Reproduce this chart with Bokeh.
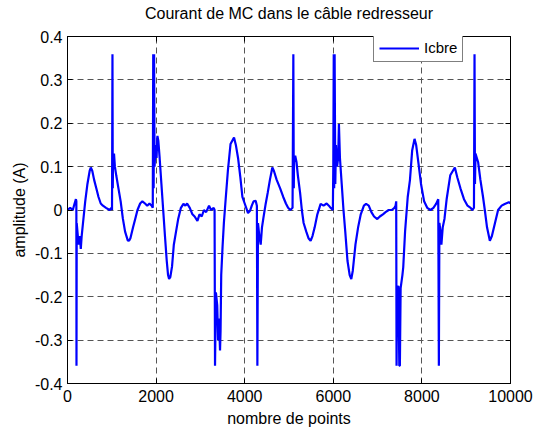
from bokeh.plotting import figure
from bokeh.models import Range1d, FixedTicker, LinearAxis, Legend, LegendItem, ColumnDataSource
from bokeh.embed import file_html
from bokeh.resources import INLINE

# ---------------- data ----------------
sample_index = [
    0, 60, 120, 160, 190, 200, 203, 208, 250, 280, 300, 320, 350, 400, 450, 500, 526, 560, 600, 650,
    700, 750, 800, 870, 950, 990, 1005, 1015, 1022, 1030, 1040, 1050, 1070, 1100, 1150, 1200, 1250,
    1300, 1360, 1390, 1420, 1480, 1530, 1580, 1640, 1690, 1750, 1800, 1850, 1900, 1925, 1935, 1945,
    1955, 1965, 1990, 2010, 2030, 2050, 2080, 2120, 2160, 2200, 2240, 2270, 2293, 2320, 2360, 2400,
    2450, 2500, 2560, 2617, 2660, 2700, 2760, 2820, 2870, 2933, 2980, 3030, 3080, 3130, 3195, 3240,
    3300, 3320, 3330, 3350, 3380, 3400, 3420, 3443, 3455, 3470, 3500, 3530, 3571, 3620, 3680, 3759,
    3800, 3850, 3900, 3948, 4000, 4075, 4120, 4160, 4200, 4248, 4275, 4286, 4300, 4330, 4361, 4390,
    4420, 4473, 4520, 4570, 4624, 4660, 4720, 4800, 4870, 4930, 4980, 5030, 5080, 5098, 5108, 5115,
    5140, 5170, 5200, 5250, 5290, 5330, 5390, 5440, 5488, 5530, 5580, 5640, 5714, 5780, 5850, 5900,
    5939, 5990, 6000, 6010, 6020, 6030, 6045, 6060, 6085, 6110, 6127, 6150, 6190, 6230, 6270, 6320,
    6370, 6406, 6440, 6500, 6560, 6620, 6691, 6740, 6800, 6860, 6920, 6993, 7050, 7120, 7180, 7250,
    7320, 7380, 7406, 7420, 7428, 7440, 7470, 7490, 7503, 7520, 7560, 7579, 7620, 7680, 7730, 7780,
    7834, 7870, 7920, 7980, 8050, 8120, 8195, 8260, 8320, 8369, 8383, 8395, 8420, 8440, 8470, 8510,
    8560, 8640, 8744, 8800, 8870, 8950, 9030, 9100, 9136, 9175, 9188, 9198, 9210, 9240, 9270, 9320,
    9380, 9420, 9470, 9534, 9580, 9650, 9720, 9800, 9870, 9962, 10000,
]
icbre = [
    0.0, 0.005, 0.0, 0.015, 0.025, 0.02, -0.359, -0.03, -0.08, -0.06, -0.09, -0.06, -0.03, 0.02, 0.06,
    0.09, 0.098, 0.09, 0.07, 0.05, 0.03, 0.015, 0.01, 0.005, 0.0, 0.005, 0.0, 0.359, 0.05, 0.13, 0.11,
    0.13, 0.1, 0.08, 0.05, 0.02, -0.02, -0.05, -0.07, -0.071, -0.065, -0.04, -0.02, 0.0, 0.015, 0.02,
    0.015, 0.01, 0.015, 0.01, 0.005, 0.359, 0.05, 0.359, 0.1, 0.15, 0.12, 0.171, 0.16, 0.12, 0.06, 0.0,
    -0.06, -0.117, -0.15, -0.159, -0.155, -0.13, -0.08, -0.05, -0.02, 0.005, 0.014, 0.01, 0.015, 0.005,
    -0.01, -0.015, -0.025, -0.01, -0.015, 0.0, -0.005, 0.01, 0.0, 0.005, 0.0, -0.359, -0.19, -0.22,
    -0.3, -0.25, -0.324, -0.28, -0.15, -0.085, -0.03, 0.026, 0.09, 0.152, 0.167, 0.15, 0.12, 0.077,
    0.03, 0.015, -0.007, -0.002, 0.01, 0.02, 0.021, 0.01, -0.359, -0.03, -0.06, -0.08, -0.04, -0.02,
    0.014, 0.04, 0.07, 0.098, 0.09, 0.07, 0.05, 0.03, 0.015, 0.005, 0.0, 0.005, 0.359, 0.05, 0.12,
    0.125, 0.11, 0.08, 0.04, 0.0, -0.03, -0.05, -0.065, -0.071, -0.06, -0.04, -0.01, 0.014, 0.01,
    0.015, 0.01, 0.005, 0.0, 0.1, 0.359, 0.05, 0.359, 0.06, 0.15, 0.1, 0.12, 0.198, 0.12, 0.06, 0.0,
    -0.05, -0.117, -0.15, -0.159, -0.14, -0.08, -0.04, -0.01, 0.01, 0.014, 0.01, -0.005, -0.015,
    -0.021, -0.015, -0.01, -0.005, 0.0, 0.0, 0.005, 0.01, 0.02, -0.359, -0.18, -0.175, -0.359, -0.359,
    -0.18, -0.15, -0.132, -0.05, 0.03, 0.069, 0.137, 0.164, 0.15, 0.11, 0.06, 0.02, 0.005, 0.0, 0.005,
    0.014, 0.025, -0.359, -0.03, -0.05, -0.08, -0.04, -0.02, 0.026, 0.08, 0.098, 0.075, 0.05, 0.025,
    0.01, 0.005, 0.0, 0.005, 0.359, 0.06, 0.13, 0.12, 0.11, 0.07, 0.03, 0.0, -0.04, -0.071, -0.06,
    -0.03, 0.0, 0.01, 0.014, 0.018, 0.015,
]
x_ticks = [0, 2000, 4000, 6000, 8000, 10000]
x_tick_labels = ["0", "2000", "4000", "6000", "8000", "10000"]
y_ticks = [-0.4, -0.3, -0.2, -0.1, 0, 0.1, 0.2, 0.3, 0.4]
y_tick_labels = ["-0.4", "-0.3", "-0.2", "-0.1", "0", "0.1", "0.2", "0.3", "0.4"]
title_text = "Courant de MC dans le câble redresseur"
x_label = "nombre de points"
y_label = "amplitude (A)"
series_name = "Icbre"

FONT = "Liberation Sans"
FS = "16px"

p = figure(width=540, height=429, output_backend="svg", toolbar_location=None,
           x_range=Range1d(0, 10000), y_range=Range1d(-0.4, 0.4),
           min_border_left=67, min_border_right=30, min_border_top=36, min_border_bottom=45,
           background_fill_color="white", border_fill_color="white")
p.outline_line_color = "black"
p.outline_line_width = 1


def style_axis(ax, ticks, labels, show):
    ax.ticker = FixedTicker(ticks=ticks)
    ax.major_label_overrides = {t: (l if show else "") for t, l in zip(ticks, labels)}
    ax.major_tick_in = 5
    ax.major_tick_out = 0
    ax.minor_tick_in = 0
    ax.minor_tick_out = 0
    ax.axis_line_color = "black"
    ax.major_tick_line_color = "black"
    ax.major_label_text_font = FONT
    ax.major_label_text_font_size = FS if show else "1px"
    ax.major_label_text_color = "black"
    ax.major_label_standoff = 5 if show else 0
    ax.axis_label_text_font = FONT
    ax.axis_label_text_font_size = FS
    ax.axis_label_text_font_style = "normal"
    ax.axis_label_text_color = "black"


style_axis(p.xaxis[0], x_ticks, x_tick_labels, True)
style_axis(p.yaxis[0], y_ticks, y_tick_labels, True)
p.xaxis[0].axis_label = x_label
p.yaxis[0].axis_label = y_label
p.xaxis[0].major_label_standoff = 6
p.xaxis[0].axis_label_standoff = 5
p.yaxis[0].axis_label_standoff = 4

# top axis: inward ticks of the box, and the chart title centred over the frame
top_axis = LinearAxis()
right_axis = LinearAxis()
style_axis(top_axis, x_ticks, x_tick_labels, False)
style_axis(right_axis, y_ticks, y_tick_labels, False)
top_axis.axis_label = title_text
top_axis.axis_label_standoff = 15
p.add_layout(top_axis, "above")
p.add_layout(right_axis, "right")

for g, t in ((p.xgrid[0], x_ticks), (p.ygrid[0], y_ticks)):
    g.ticker = FixedTicker(ticks=t)
    g.grid_line_color = "#555555"
    g.grid_line_dash = "6 4"
    g.grid_line_width = 1

src = ColumnDataSource(data=dict(x=sample_index, y=icbre))
r = p.line("x", "y", source=src, line_color="#0000ff", line_width=2.2)

legend = Legend(items=[LegendItem(label=series_name, renderers=[r])],
                location=(306, 321), orientation="vertical")
legend.border_line_color = "black"
legend.border_line_width = 1
legend.background_fill_color = "white"
legend.background_fill_alpha = 1.0
legend.label_text_font = FONT
legend.label_text_font_size = "15px"
legend.label_text_color = "black"
legend.glyph_width = 40
legend.glyph_height = 16
legend.label_standoff = 5
legend.padding = 5
legend.spacing = 0
legend.margin = 0
legend.label_height = 16
p.add_layout(legend)

open("out.html", "w").write(file_html(p, INLINE))
